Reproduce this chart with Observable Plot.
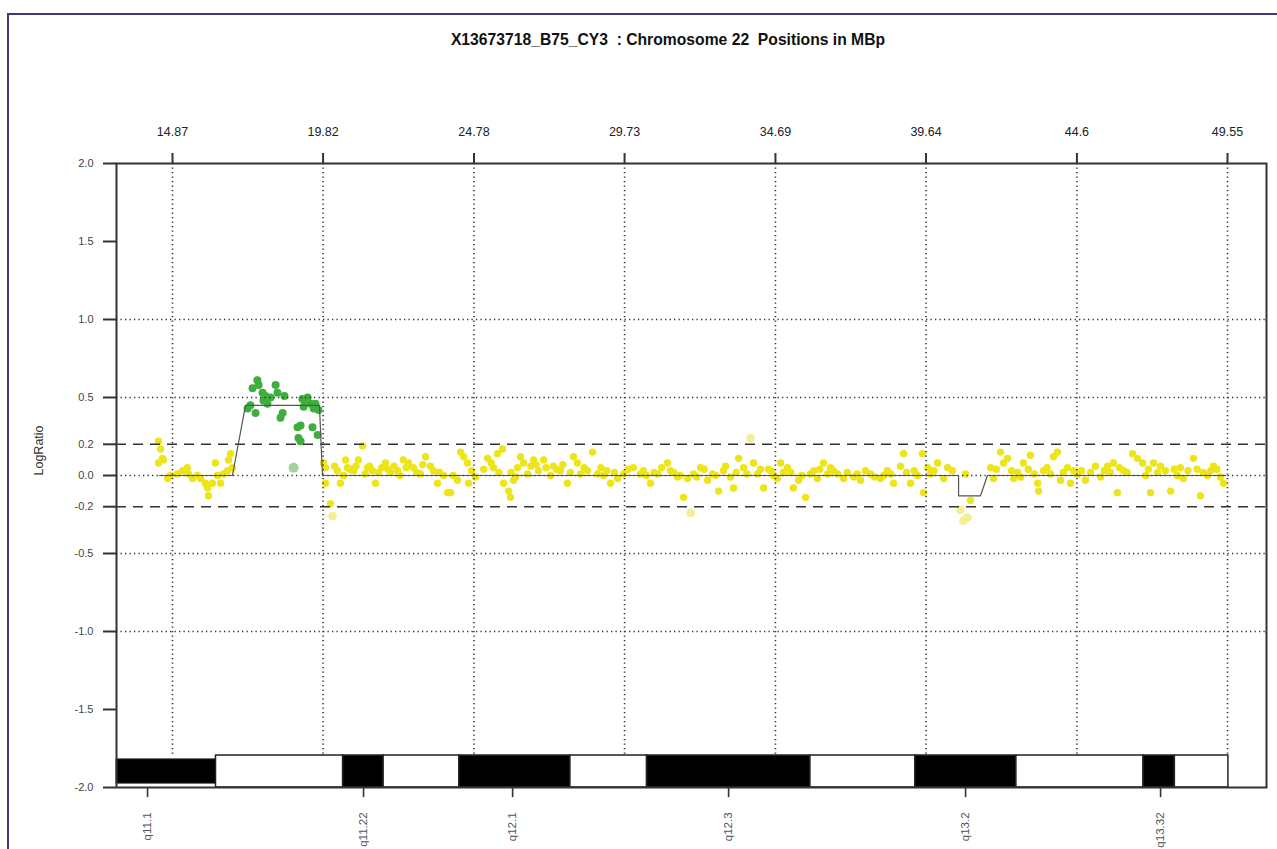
<!DOCTYPE html>
<html><head><meta charset="utf-8">
<script src="https://cdn.jsdelivr.net/npm/d3@7"></script>
<script src="https://cdn.jsdelivr.net/npm/@observablehq/plot@0.6"></script>
<style>
body{margin:0;background:#fff;}
#wrap{position:relative;width:1277px;height:849px;overflow:hidden;font-family:Arial,"Liberation Sans",sans-serif;background:#fff;}
#border{position:absolute;left:7px;top:13px;width:1300px;height:900px;border-top:2px solid #45347f;border-left:2px solid #45347f;}
#title{position:absolute;left:0;width:1336px;top:31px;text-align:center;font-weight:bold;font-size:15.7px;white-space:pre;color:#111;}
#chart{position:absolute;left:0;top:0;}
</style></head>
<body>
<div id="wrap"><div id="border"></div><div id="chart"></div><div id="title">X13673718_B75_CY3  : Chromosome 22  Positions in MBp</div></div>
<script>
// ---- data ----
const xTicks = [14.87, 19.82, 24.78, 29.73, 34.69, 39.64, 44.6, 49.55];
const xTickLabels = ["14.87", "19.82", "24.78", "29.73", "34.69", "39.64", "44.6", "49.55"];
const yTicks = [2, 1.5, 1, 0.5, 0.2, 0, -0.2, -0.5, -1, -1.5, -2];
const yTickLabels = ["2.0", "1.5", "1.0", "0.5", "0.2", "0.0", "-0.2", "-0.5", "-1.0", "-1.5", "-2.0"];
const dottedLevels = [1, 0.5, 0, -0.5, -1];
const thresholdLevels = [0.2, -0.2];

const normalPos = [14.41,14.48,14.54,14.41,14.57,14.71,14.80,15.03,15.20,15.36,15.40,15.53,15.69,15.79,15.95,16.02,16.05,16.18,16.28,16.35,16.45,16.55,16.68,16.71,16.78,16.84,
19.83,19.90,19.90,20.06,20.29,20.39,20.49,20.56,20.62,20.82,20.98,21.12,21.28,21.44,21.54,21.64,21.87,22.04,22.27,22.46,22.63,22.79,23.02,23.19,23.35,23.58,23.78,23.91,24.01,24.24,24.34,24.44,24.57,24.60,24.83,
25.23,25.42,25.55,25.72,25.75,25.92,25.98,26.08,26.21,26.31,26.41,26.54,26.74,26.90,27.07,27.30,27.39,27.62,27.85,28.05,28.18,28.28,28.51,28.68,28.84,29.04,29.27,29.50,29.70,30.02,30.25,
30.35,30.58,30.81,31.14,31.24,31.47,31.67,31.80,32.00,32.23,32.46,32.62,32.82,32.98,33.21,33.31,33.48,33.64,33.97,34.10,34.30,34.46,34.63,34.86,35.09,35.28,35.45,35.68,35.84,36.07,36.27,36.50,36.73,36.93,37.26,37.49,37.82,38.14,38.37,38.57,38.80,38.90,39.13,39.36,39.52,39.56,39.79,40.02,40.22,40.51,
40.94,41.10,41.76,41.86,42.09,42.19,42.32,42.52,42.75,42.84,43.07,43.31,43.34,43.50,43.73,43.83,43.96,44.06,44.29,44.39,44.62,44.88,45.21,45.38,45.61,45.80,45.93,46.13,46.43,46.59,46.76,46.86,47.02,47.12,47.35,47.51,47.68,47.91,48.10,48.43,48.66,48.89,49.09,49.32,49.42,
20.20,20.70,20.90,21.20,21.35,21.75,21.95,22.15,22.35,22.55,22.90,23.10,23.45,23.65,24.10,24.70,
25.10,25.35,25.60,26.00,26.15,26.65,26.82,27.15,27.50,27.70,27.95,28.40,28.95,29.15,29.40,29.85,
30.45,30.70,30.95,31.35,31.55,32.10,32.35,32.72,33.05,33.40,33.75,34.20,34.55,34.75,34.95,
35.20,35.55,35.95,36.15,36.40,36.60,37.05,37.38,37.65,37.95,38.25,38.48,39.00,39.25,39.70,39.90,40.35,
41.95,42.45,42.65,43.00,43.20,43.62,44.15,44.50,44.75,45.05,45.50,45.70,46.00,46.25,46.95,47.25,47.80,48.00,48.25,48.55,48.75,49.00,49.20];
const normalRatio = [0.22,0.17,0.11,0.08,0.10,-0.02,0.00,0.01,0.03,0.05,0.01,-0.02,0.00,-0.02,-0.05,-0.08,-0.13,-0.05,0.08,0.00,-0.05,0.01,0.03,0.10,0.14,0.05,
0.08,0.05,-0.05,-0.18,0.03,-0.05,0.00,0.10,0.05,0.03,0.10,0.19,0.05,0.03,-0.05,0.02,0.08,0.02,0.03,0.10,0.08,0.05,0.01,0.12,0.06,-0.05,0.00,-0.11,-0.11,-0.03,0.15,0.12,0.08,-0.05,-0.01,
0.11,0.05,0.14,0.17,-0.05,-0.10,-0.14,-0.03,0.05,0.12,0.08,0.01,0.10,0.03,0.10,0.00,0.06,0.03,-0.05,0.12,0.08,0.01,0.03,0.15,0.01,0.00,-0.05,-0.02,0.01,0.05,0.01,
0.03,-0.05,0.01,0.08,0.03,-0.01,-0.14,-0.02,0.01,0.05,-0.03,0.01,-0.10,0.03,-0.01,-0.08,0.11,0.05,0.08,0.01,-0.08,0.04,0.00,0.08,0.05,-0.08,-0.03,-0.14,0.01,-0.02,0.08,0.05,0.01,-0.02,-0.01,-0.03,0.01,-0.02,0.03,-0.05,0.06,0.14,-0.05,0.00,0.14,-0.11,0.01,0.08,-0.02,0.03,
0.01,-0.16,0.05,-0.02,0.15,0.08,0.11,-0.02,-0.01,0.08,0.13,-0.05,-0.10,0.03,0.01,0.12,0.15,-0.03,0.05,-0.05,0.01,-0.03,0.06,-0.01,0.06,0.08,-0.11,0.03,0.14,0.11,0.08,0.00,-0.11,0.08,0.06,0.03,-0.10,0.00,-0.02,0.11,-0.13,0.00,0.06,-0.01,-0.05,
0.06,0.04,0.06,0.01,0.06,0.05,0.04,0.06,0.00,0.05,0.02,0.07,0.03,0.02,0.00,0.03,
0.04,0.08,0.02,0.02,-0.01,0.06,0.07,0.05,0.04,0.07,0.02,0.05,0.05,0.03,0.02,0.04,
0.00,0.02,0.05,0.02,0.00,-0.01,0.04,0.00,0.06,0.02,0.01,0.04,0.03,-0.02,0.02,
0.02,0.00,0.03,0.04,0.01,0.03,0.02,0.01,0.03,-0.01,0.00,0.01,0.02,0.03,0.05,0.03,0.05,
0.04,0.03,0.02,0.04,0.01,0.05,0.02,0.03,0.03,0.02,0.03,0.02,0.05,0.02,0.04,0.02,0.04,0.05,0.03,0.04,0.02,0.03,0.04];
const weakPos = [20.13, 31.90, 33.87, 40.77, 40.87, 41.00];
const weakRatio = [-0.26, -0.24, 0.24, -0.22, -0.29, -0.27];
const gainPos = [17.34,17.60,17.50,17.66,17.70,17.83,17.86,17.99,18.09,18.26,18.32,18.42,18.49,18.98,19.01,19.08,19.14,19.18,19.31,19.41,19.47,19.51,19.57,19.64,19.67,17.43,17.93,18.55,19.08,19.24];
const gainRatio = [0.43,0.40,0.56,0.61,0.58,0.53,0.48,0.46,0.50,0.58,0.53,0.37,0.40,0.31,0.24,0.32,0.49,0.44,0.50,0.46,0.31,0.43,0.46,0.26,0.42,0.45,0.51,0.51,0.22,0.48];
const weakGainPos = [18.85];
const weakGainRatio = [0.05];
const segPos = [14.44, 16.84, 17.27, 19.70, 19.80, 40.71, 40.71, 41.43, 41.66, 49.49];
const segRatio = [0, 0, 0.45, 0.45, 0, 0, -0.13, -0.13, 0, 0];
const bandStart = [13.03, 16.30, 20.48, 21.81, 24.30, 27.95, 30.47, 35.84, 39.29, 42.61, 46.79, 47.82];
const bandEnd   = [16.30, 20.48, 21.81, 24.30, 27.95, 30.47, 35.84, 39.29, 42.61, 46.79, 47.82, 49.58];
const bandStain = ["cen", "gneg", "gpos", "gneg", "gpos", "gneg", "gpos", "gneg", "gpos", "gneg", "gpos", "gneg"];
const bandLabels = ["q11.1", "q11.22", "q12.1", "q12.3", "q13.2", "q13.32"];
const bandLabelPos = [14.05, 21.15, 26.05, 33.15, 40.94, 47.35];

// ---- build ----
const pts = (xs, ys) => xs.map((x, i) => ({x, y: ys[i]}));
const normal = pts(normalPos, normalRatio);
const weak = pts(weakPos, weakRatio);
const gain = pts(gainPos, gainRatio);
const weakGain = pts(weakGainPos, weakGainRatio);
const seg = pts(segPos, segRatio);
const bands = bandStart.map((s, i) => ({s, e: bandEnd[i], stain: bandStain[i]}));
const xLab = new Map(xTicks.map((t, i) => [t, xTickLabels[i]]));
const yLab = new Map(yTicks.map((t, i) => [t, yTickLabels[i]]));
const x0 = 13.029, x1 = 50.832;
const ideoTop = -1.795;
const ink = "#333";

const chart = Plot.plot({
  width: 1277, height: 849,
  marginLeft: 116, marginRight: 11, marginTop: 163, marginBottom: 62,
  x: {domain: [x0, x1], axis: null},
  y: {domain: [-2, 2], axis: null},
  style: {fontFamily: "Arial, 'Liberation Sans', sans-serif", background: "transparent", overflow: "visible"},
  marks: [
    Plot.dot(weak, {x: "x", y: "y", r: 4.4, fill: "#f4ef96"}),
    Plot.dot(weakGain, {x: "x", y: "y", r: 5, fill: "#9fd49f"}),
    Plot.dot(normal, {x: "x", y: "y", r: 3.7, fill: "#ede51a"}),
    Plot.dot(gain, {x: "x", y: "y", r: 4, fill: "#3fae3f"}),
    Plot.ruleX(xTicks, {y1: 2, y2: ideoTop, stroke: ink, strokeWidth: 1.6, strokeDasharray: "1.3,3.2"}),
    Plot.ruleY(dottedLevels, {x1: x0, x2: x1, stroke: ink, strokeWidth: 1.6, strokeDasharray: "1.3,3.2"}),
    Plot.ruleY(thresholdLevels, {x1: x0, x2: x1, stroke: ink, strokeWidth: 1.6, strokeDasharray: "10,7"}),
    Plot.line(seg, {x: "x", y: "y", stroke: "#555", strokeWidth: 1.2}),
    Plot.rect(bands.filter(d => d.stain !== "cen"), {x1: "s", x2: "e", y1: -2, y2: ideoTop, fill: d => d.stain === "gpos" ? "#000" : "#fff", stroke: "#222", strokeWidth: 1.5}),
    Plot.rect(bands.filter(d => d.stain === "cen"), {x1: "s", x2: "e", y1: -1.975, y2: -1.82, fill: "#000", stroke: "#222", strokeWidth: 1}),
    Plot.frame({stroke: ink, strokeWidth: 2}),
    Plot.axisX(xTicks, {anchor: "top", label: null, tickSize: 11, tickPadding: 17, tickFormat: d => xLab.get(d), fontSize: 12.5, stroke: ink, strokeWidth: 2, fill: "#222"}),
    Plot.axisY(yTicks, {anchor: "left", label: null, tickSize: 13, tickPadding: 10, tickFormat: d => yLab.get(d), fontSize: 11, stroke: ink, strokeWidth: 2, fill: "#444"}),
    Plot.ruleX(bandLabelPos, {y1: -2, y2: -2.065, stroke: ink, strokeWidth: 1.6}),
    Plot.text(bandLabelPos, {x: d => d, y: -2.16, text: (d, i) => bandLabels[i], rotate: -90, textAnchor: "end", fontSize: 11.5, fill: "#555"}),
    Plot.text(["LogRatio"], {frameAnchor: "left", dx: -78, rotate: -90, text: d => d, fontSize: 12.5, fill: "#333"})
  ]
});
chart.querySelectorAll('g[aria-label="dot"]').forEach(g => { g.style.filter = "blur(0.5px)"; });
document.getElementById("chart").append(chart);
</script>
</body></html>
